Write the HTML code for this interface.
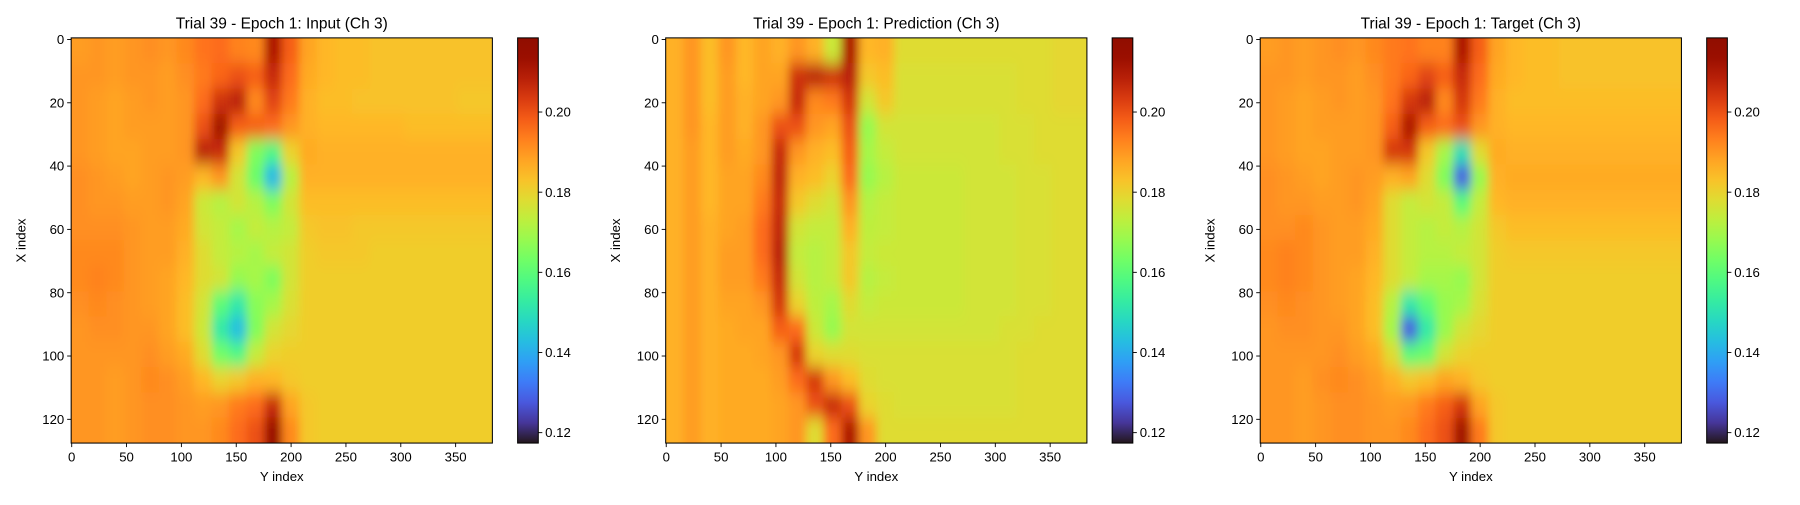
<!DOCTYPE html>
<html><head><meta charset="utf-8">
<style>
body{margin:0;background:#fff;}
svg text{font-family:"Liberation Sans","DejaVu Sans",sans-serif;fill:#000;}
</style></head>
<body>
<svg id="fig" width="1800" height="500" viewBox="0 0 1568.3 435.6" preserveAspectRatio="none" xmlns="http://www.w3.org/2000/svg">
<rect width="1568.3" height="435.6" fill="#fff"/>
</svg>
<script>
// Values stored in thousandths (e.g. 190 = 0.190). 16 rows (X index, 8 per row) x 24 cols (Y index, 16 per col).
const titles = ["Trial 39 - Epoch 1: Input (Ch 3)","Trial 39 - Epoch 1: Prediction (Ch 3)","Trial 39 - Epoch 1: Target (Ch 3)"];
const xTicks = [0,50,100,150,200,250,300,350];
const yTicks = [0,20,40,60,80,100,120];
const cbTicks = [0.12,0.14,0.16,0.18,0.20];
const vmin = 0.1174, vmax = 0.2185;
const inputGrid = [
"189 190 189 190 191 190 192 195 196 193 192 210 198 188 185 184 184 183 183 183 183 183 183 183",
"190 190 189 190 190 189 191 194 197 200 198 206 196 187 185 184 184 183 183 183 183 183 183 183",
"190 189 188 189 190 189 190 196 205 208 192 202 194 186 184 184 183 183 183 183 183 183 182 182",
"190 189 188 189 189 189 190 200 212 198 198 196 190 186 185 185 185 185 185 184 184 184 184 184",
"190 189 188 188 189 189 190 208 206 182 165 158 180 187 186 186 186 186 186 186 186 186 186 186",
"191 190 189 188 189 190 189 185 190 176 162 142 172 186 186 186 186 186 186 186 186 186 186 186",
"191 190 190 189 189 190 188 175 172 176 172 165 176 184 184 184 184 184 184 184 184 184 184 184",
"191 191 191 190 189 189 187 176 174 170 174 172 174 182 183 183 182 182 182 182 182 182 182 182",
"192 192 192 190 189 189 186 178 174 172 170 174 176 181 182 182 182 181 181 181 181 181 181 181",
"192 193 192 190 189 188 185 178 176 168 170 165 176 181 181 181 181 181 181 181 181 181 181 181",
"191 192 191 190 189 188 184 176 160 152 166 170 177 181 181 181 181 181 181 181 181 181 181 181",
"190 191 191 190 190 188 184 175 152 143 165 176 179 181 181 181 181 181 181 181 181 181 181 181",
"190 190 190 190 191 189 187 178 163 158 174 180 181 181 181 181 181 181 181 181 181 181 181 181",
"190 190 189 190 192 191 189 185 180 182 186 185 182 181 181 181 181 181 181 181 181 181 181 181",
"190 190 189 190 191 191 190 189 190 194 196 206 188 182 181 181 181 181 181 181 181 181 181 181",
"190 190 189 190 191 191 190 190 192 196 200 214 192 182 181 181 181 181 181 181 181 181 181 181"];
const predGrid = [
"186 190 184 190 185 188 186 190 186 175 210 185 186 178 178 178 178 178 178 178 178 178 179 179",
"186 190 184 189 185 188 188 205 208 205 208 182 184 177 177 177 177 177 177 177 178 178 179 179",
"186 190 184 189 186 188 190 206 192 194 204 176 182 177 177 177 177 177 177 177 178 178 179 179",
"186 190 185 189 186 190 200 200 190 188 200 168 176 176 176 176 176 176 176 177 177 178 178 178",
"186 189 185 189 187 190 206 190 186 184 198 170 174 176 176 176 176 176 176 177 177 178 178 178",
"186 189 185 188 188 192 207 186 184 180 196 168 172 175 175 175 175 176 176 176 177 177 178 178",
"186 189 185 188 188 194 206 182 178 176 190 172 174 175 175 175 175 176 176 176 177 177 178 178",
"186 189 186 188 189 196 207 176 174 174 186 173 174 175 175 175 175 176 176 176 177 177 178 178",
"186 189 186 189 189 196 208 174 172 174 182 174 175 175 175 175 175 176 176 176 177 177 178 178",
"186 189 186 189 189 194 206 176 172 174 182 172 174 175 175 175 175 176 176 176 177 177 178 178",
"186 189 186 188 188 190 204 180 173 170 178 174 175 175 175 175 175 176 176 176 177 177 178 178",
"186 189 186 187 188 188 198 196 175 168 176 176 176 176 176 176 176 176 176 177 177 178 178 178",
"186 189 186 187 187 188 190 204 180 178 178 177 177 177 177 177 177 177 177 177 178 178 178 178",
"186 189 186 187 187 187 189 196 204 190 184 178 177 177 177 177 177 177 177 177 178 178 178 178",
"186 189 186 187 187 187 188 190 200 206 200 180 178 177 177 177 177 177 177 177 178 178 178 178",
"186 189 186 187 187 187 188 190 178 196 210 190 178 178 178 178 178 178 178 178 178 178 178 178"];
const targetGrid = [
"189 190 189 190 191 190 192 194 195 193 193 210 198 188 185 184 184 183 183 183 183 183 183 183",
"190 190 189 190 190 189 191 194 197 202 198 206 196 187 185 184 184 183 183 183 183 183 183 183",
"190 189 188 189 190 189 190 195 204 208 192 204 194 186 184 184 184 184 184 184 184 184 184 184",
"190 189 188 189 189 189 190 198 210 198 196 200 190 186 185 185 185 185 185 185 185 185 185 185",
"190 189 188 188 189 189 190 204 204 182 170 150 178 187 186 186 186 186 186 186 186 186 186 186",
"191 190 189 188 189 190 189 186 188 178 165 128 168 186 187 187 187 187 187 187 187 187 187 187",
"191 190 190 189 189 190 188 178 174 176 174 160 174 185 186 186 186 186 186 186 186 186 186 186",
"191 191 192 190 189 189 187 178 174 172 174 172 176 182 184 184 184 184 184 184 184 184 184 184",
"192 193 192 190 189 189 186 178 174 172 172 174 176 181 182 182 182 182 182 182 182 182 182 182",
"192 193 192 190 189 188 185 178 174 170 170 168 176 181 181 181 181 181 181 181 181 181 181 181",
"191 192 191 190 189 188 184 172 152 160 168 170 177 181 181 181 181 181 181 181 181 181 181 181",
"190 191 191 190 190 188 184 170 128 152 168 176 179 181 181 181 181 181 181 181 181 181 181 181",
"190 190 190 190 191 189 187 178 160 162 176 180 181 181 181 181 181 181 181 181 181 181 181 181",
"190 190 189 191 192 191 189 186 182 184 188 186 182 181 181 181 181 181 181 181 181 181 181 181",
"190 190 189 190 191 191 190 189 190 194 198 204 188 182 181 181 181 181 181 181 181 181 181 181",
"190 190 189 190 191 191 190 190 192 196 200 212 194 182 181 181 181 181 181 181 181 181 181 181"];
const grids = [inputGrid, predGrid, targetGrid];
const panelNames = ["input","prediction","target"];

const NS = "http://www.w3.org/2000/svg";
const svg = document.getElementById('fig');
const axLeft = [62, 580, 1098], axTop = 33, axW = 367, axH = 353;
const cbOff = 389, cbW = 18;
const NX = 128, NY = 384;

function turbo(t){
  t = Math.max(0, Math.min(1, t));
  const r = 0.13572138 + t*(4.61539260 + t*(-42.66032258 + t*(132.13108234 + t*(-152.94239396 + t*59.28637943))));
  const g = 0.09140261 + t*(2.19418839 + t*(4.84296658 + t*(-14.18503333 + t*(4.27729857 + t*2.82956604))));
  const b = 0.10667330 + t*(12.64194608 + t*(-60.58204836 + t*(110.36276771 + t*(-89.90310912 + t*27.34824973))));
  const c = v => Math.round(255*Math.max(0, Math.min(1, v)));
  return `rgb(${c(r)},${c(g)},${c(b)})`;
}
function mk(tag, attrs, parent){
  const e = document.createElementNS(NS, tag);
  for (const k in attrs) e.setAttribute(k, attrs[k]);
  (parent || svg).appendChild(e);
  return e;
}
const defs = mk('defs', {});
const blur = mk('filter', {id:'bl', x:'-10%', y:'-10%', width:'120%', height:'120%'}, defs);
mk('feGaussianBlur', {stdDeviation:'4 7'}, blur);
const grad = mk('linearGradient', {id:'cbgrad', x1:'0', y1:'1', x2:'0', y2:'0'}, defs);
for (let i = 0; i <= 20; i++) mk('stop', {offset: (i/20), 'stop-color': turbo(i/20)}, grad);

for (let p = 0; p < 3; p++){
  const L = axLeft[p];
  const xs = v => L + (v + 0.5) / NY * axW;
  const ys = v => axTop + (v + 0.5) / NX * axH;
  const cp = mk('clipPath', {id:'clip'+p}, defs);
  mk('rect', {x:L, y:axTop, width:axW, height:axH}, cp);
  const hm = mk('g', {'clip-path':`url(#clip${p})`});
  
  
  const inner = mk('g', {filter:'url(#bl)'}, hm);
  const rows = grids[p].map(s => s.trim().split(/\s+/).map(Number));
  const nr = rows.length, nc = rows[0].length;
  const ch = NX / nr, cw = NY / nc;
  for (let i = 0; i < nr; i++) for (let j = 0; j < nc; j++){
    let x0 = xs(j*cw - 0.5), x1 = xs((j+1)*cw - 0.5);
    let y0 = ys(i*ch - 0.5), y1 = ys((i+1)*ch - 0.5);
    if (j === 0) x0 -= 30; if (j === nc-1) x1 += 30;
    if (i === 0) y0 -= 30; if (i === nr-1) y1 += 30;
    const v = rows[i][j] / 1000;
    const r = mk('rect', {x:x0, y:y0, width:x1-x0+0.6, height:y1-y0+0.6, fill: turbo((v - vmin)/(vmax - vmin))}, inner);
    
    
  }
  const fr = mk('rect', {x:L, y:axTop, width:axW, height:axH, fill:'none', stroke:'#000', 'stroke-width':0.9});
  
  
  xTicks.forEach(t => {
    const x = xs(t);
    mk('line', {x1:x, x2:x, y1:axTop+axH, y2:axTop+axH+3.5, stroke:'#000', 'stroke-width':0.8});
    const tx = mk('text', {x:x, y:axTop+axH+16, 'font-size':11.5, 'text-anchor':'middle'});
    tx.textContent = t;
    
    
  });
  yTicks.forEach(t => {
    const y = ys(t);
    mk('line', {x1:L-3.5, x2:L, y1:y, y2:y, stroke:'#000', 'stroke-width':0.8});
    const tx = mk('text', {x:L-6, y:y+4, 'font-size':11.5, 'text-anchor':'end'});
    tx.textContent = t;
    
    
  });
  const tt = mk('text', {x:L+axW/2, y:25, 'font-size':13.5, 'text-anchor':'middle'});
  tt.textContent = titles[p];
  
  
  const xl = mk('text', {x:L+axW/2, y:419, 'font-size':11.5, 'text-anchor':'middle'});
  xl.textContent = 'Y index';
  
  
  const yl = mk('text', {x:0, y:0, 'font-size':11.5, 'text-anchor':'middle', transform:`translate(${L-40},${axTop+axH/2}) rotate(-90)`});
  yl.textContent = 'X index';
  
  
  const cx = L + cbOff;
  const cb = mk('rect', {x:cx, y:axTop, width:cbW, height:axH, fill:'url(#cbgrad)', stroke:'#000', 'stroke-width':0.9});
  
  
  const cs = v => axTop + axH - (v - vmin) / (vmax - vmin) * axH;
  cbTicks.forEach(t => {
    const y = cs(t);
    mk('line', {x1:cx+cbW, x2:cx+cbW+3.5, y1:y, y2:y, stroke:'#000', 'stroke-width':0.8});
    const tx = mk('text', {x:cx+cbW+6, y:y+4, 'font-size':11.5});
    tx.textContent = t.toFixed(2);
    
    
  });
}
</script>
</body></html>
